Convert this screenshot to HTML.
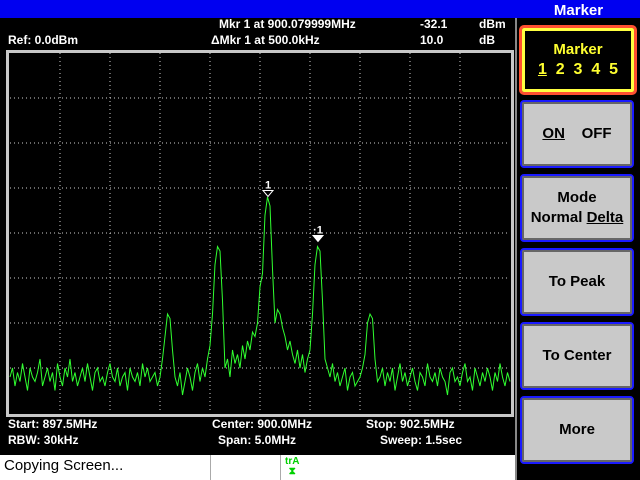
<!DOCTYPE html>
<html><head><meta charset="utf-8"><style>
body{margin:0;width:640px;height:480px;background:#000;overflow:hidden;font-family:"Liberation Sans",Arial,sans-serif;position:relative}
.t{position:absolute;color:#fff;font-weight:bold;font-size:12px;white-space:nowrap}
.btn{position:absolute;left:520px;width:114px;background:#c9c9c9;border:2px solid #1a1aff;border-radius:4px;box-shadow:inset 0 0 0 2px #666;color:#000;font-size:15px;font-weight:bold;text-align:center;box-sizing:border-box;display:flex;flex-direction:column;justify-content:center;line-height:20px}
</style></head><body>
<div style="position:absolute;left:0;top:0;width:640px;height:18px;background:#0000f0"></div>
<div style="position:absolute;left:517px;top:0;width:123px;height:20px;color:#fff;font-weight:bold;font-size:15px;text-align:center;line-height:22px">Marker</div>
<div style="position:absolute;left:515px;top:18px;width:2px;height:462px;background:#888"></div>
<div class="t" style="left:8px;top:33px">Ref: 0.0dBm</div>
<div class="t" style="left:219px;top:17px">Mkr 1 at 900.079999MHz</div>
<div class="t" style="left:211px;top:33px">ΔMkr 1 at 500.0kHz</div>
<div class="t" style="left:420px;top:17px">-32.1</div>
<div class="t" style="left:420px;top:33px">10.0</div>
<div class="t" style="left:479px;top:17px">dBm</div>
<div class="t" style="left:479px;top:33px">dB</div>
<svg id="plot" width="640" height="480" style="position:absolute;left:0;top:0">
<rect x="7.5" y="51.5" width="505" height="364" fill="#000" stroke="#c8c8c8" stroke-width="3"/>
<g id="grid"></g><g id="trace"></g><g id="markers"></g>
</svg>
<div class="t" style="left:8px;top:417px">Start: 897.5MHz</div>
<div class="t" style="left:212px;top:417px">Center: 900.0MHz</div>
<div class="t" style="left:366px;top:417px">Stop: 902.5MHz</div>
<div class="t" style="left:8px;top:433px">RBW: 30kHz</div>
<div class="t" style="left:218px;top:433px">Span: 5.0MHz</div>
<div class="t" style="left:380px;top:433px">Sweep: 1.5sec</div>
<div style="position:absolute;left:0;top:455px;width:515px;height:25px;background:#fff"></div>
<div style="position:absolute;left:210px;top:455px;width:1px;height:25px;background:#aaa"></div>
<div style="position:absolute;left:280px;top:455px;width:1px;height:25px;background:#aaa"></div>
<div style="position:absolute;left:4px;top:457px;font-size:15px;color:#000">Copying Screen...</div>
<div style="position:absolute;left:285px;top:457px;font-size:10px;color:#00d000;font-weight:bold;line-height:10px;text-align:center">trA<br>⧗</div>
<div style="position:absolute;left:519px;top:25px;width:118px;height:70px;box-sizing:border-box;border:3px solid #ff5030;border-radius:5px;box-shadow:inset 0 0 0 3px #ffff40;background:#000;color:#ffff30;text-align:center;font-size:15px;font-weight:bold;line-height:20px;padding-top:12px">Marker<br><span style="font-size:16px"><u>1</u>&nbsp; 2&nbsp; 3&nbsp; 4&nbsp; 5</span></div>
<div class="btn" style="top:100px;height:68px"><div><u>ON</u>&nbsp;&nbsp;&nbsp; OFF</div></div>
<div class="btn" style="top:174px;height:68px"><div>Mode<br>Normal <u>Delta</u></div></div>
<div class="btn" style="top:248px;height:68px">To Peak</div>
<div class="btn" style="top:322px;height:68px">To Center</div>
<div class="btn" style="top:396px;height:68px">More</div>
<script>
const startFreq=897.5, stopFreq=902.5, refLevel=0, dbPerDiv=10, divs=8;
const freqStep=0.025;
const traceDbm=[-72,-70,-74,-71,-73,-69,-72,-75,-70,-72,
-73,-71,-68,-74,-72,-70,-73,-71,-75,-69,
-72,-74,-70,-72,-68,-73,-71,-74,-72,-70,
-73,-69,-72,-75,-71,-70,-73,-72,-74,-71,
-69,-72,-73,-70,-74,-72,-71,-75,-70,-72,
-73,-71,-74,-69,-72,-70,-73,-72,-71,-74,
-72,-68,-63,-58,-59,-66,-72,-74,-71,-76,
-73,-70,-72,-75,-71,-69,-73,-70,-72,-68,
-65,-58,-47,-43,-44,-55,-70,-68,-72,-66,
-69,-67,-70,-65,-68,-64,-66,-62,-63,-60,
-52,-49,-36,-32,-34,-48,-60,-57,-58,-61,
-63,-66,-64,-67,-69,-66,-70,-67,-71,-68,
-66,-58,-47,-43,-44,-55,-68,-70,-72,-69,
-73,-71,-74,-72,-70,-75,-72,-71,-74,-73,
-72,-70,-67,-60,-58,-59,-68,-73,-72,-70,
-74,-71,-73,-70,-75,-72,-69,-73,-71,-74,
-72,-70,-73,-75,-71,-72,-74,-69,-72,-73,
-71,-74,-70,-72,-73,-76,-71,-70,-73,-72,
-74,-71,-69,-73,-72,-75,-70,-72,-74,-71,
-73,-70,-72,-75,-71,-73,-69,-72,-74,-71,-73];
const markerFreqs=[900.08,900.58];
const markerDbm=[-32.1,-42.1];
const markerLabels=["1","1"];
const X0=10,X1=510,Y0=53,Y1=413;
const NS="http://www.w3.org/2000/svg";
function xs(f){return X0+(f-startFreq)/(stopFreq-startFreq)*(X1-X0);}
function ys(d){return Y0+(refLevel-d)/(dbPerDiv*divs)*(Y1-Y0);}
const grid=document.getElementById('grid');
for(let i=1;i<10;i++){const l=document.createElementNS(NS,'line');


const x=X0+i*(X1-X0)/10;l.setAttribute('x1',x);l.setAttribute('x2',x);l.setAttribute('y1',Y0);l.setAttribute('y2',Y1);
l.setAttribute('stroke','#d0d0d0');l.setAttribute('stroke-dasharray','1 3');grid.appendChild(l);}
for(let i=1;i<divs;i++){const l=document.createElementNS(NS,'line');


const y=ys(refLevel-i*dbPerDiv);l.setAttribute('x1',X0);l.setAttribute('x2',X1);l.setAttribute('y1',y);l.setAttribute('y2',y);
l.setAttribute('stroke','#d0d0d0');l.setAttribute('stroke-dasharray','1 3');grid.appendChild(l);}
const p=document.createElementNS(NS,'polyline');


p.setAttribute('points',traceDbm.map((d,i)=>xs(startFreq+i*freqStep).toFixed(1)+','+ys(d).toFixed(1)).join(' '));
p.setAttribute('fill','none');p.setAttribute('stroke','#30ff30');p.setAttribute('stroke-width','1');
document.getElementById('trace').appendChild(p);
const mg=document.getElementById('markers');
markerFreqs.forEach((f,i)=>{const x=xs(f),y=ys(markerDbm[i]);
const tri=document.createElementNS(NS,'polygon');


tri.setAttribute('points',(x-5)+','+(y-7)+' '+(x+5)+','+(y-7)+' '+x+','+(y-1));
tri.setAttribute('fill',i==0?'none':'#fff');tri.setAttribute('stroke','#fff');mg.appendChild(tri);
const t=document.createElementNS(NS,'text');


t.setAttribute('x',x);t.setAttribute('y',y-9);t.setAttribute('fill','#fff');t.setAttribute('font-size','11');t.setAttribute('font-weight','bold');
t.setAttribute('text-anchor','middle');t.setAttribute('font-family','Liberation Sans, sans-serif');
t.textContent=(i==0?'':'·')+markerLabels[i];mg.appendChild(t);});
</script>
</body></html>
